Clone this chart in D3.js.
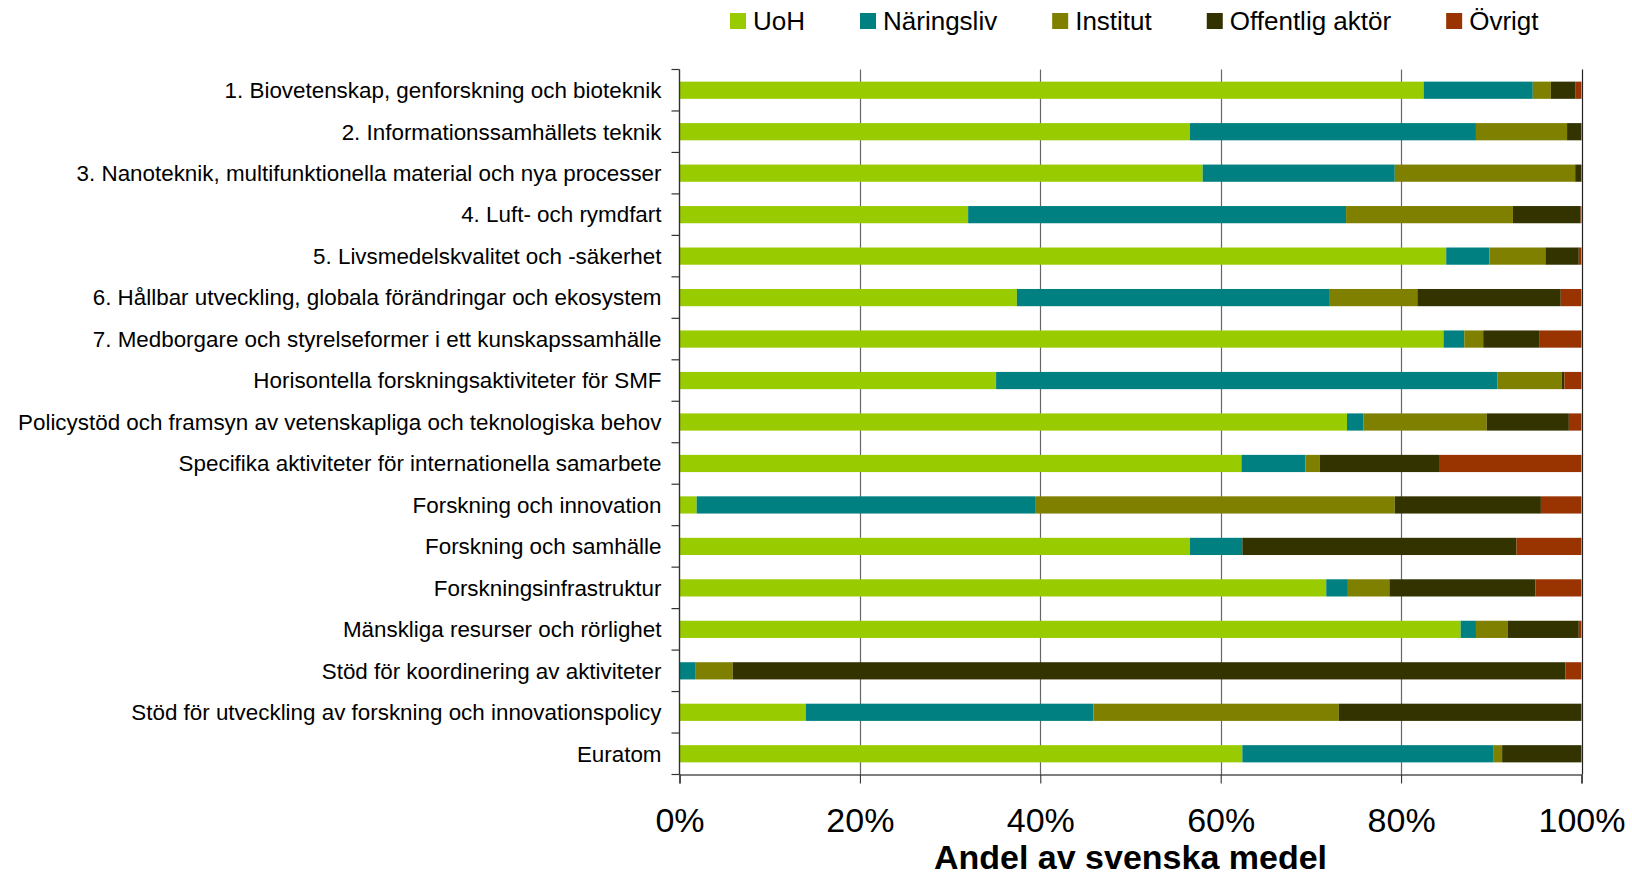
<!DOCTYPE html>
<html>
<head>
<meta charset="utf-8">
<script src="https://d3js.org/d3.v7.min.js"></script>
<style>
  body { margin: 0; background: #fff; }
  text { font-family: "Liberation Sans", Arial, sans-serif; fill: #000; }
</style>
</head>
<body>
<div id="chart"></div>
<script>
// categories, top to bottom
var categories = [
  "1. Biovetenskap, genforskning och bioteknik",
  "2. Informationssamhällets teknik",
  "3. Nanoteknik, multifunktionella material och nya processer",
  "4. Luft- och rymdfart",
  "5. Livsmedelskvalitet och -säkerhet",
  "6. Hållbar utveckling, globala förändringar och ekosystem",
  "7. Medborgare och styrelseformer i ett kunskapssamhälle",
  "Horisontella forskningsaktiviteter för SMF",
  "Policystöd och framsyn av vetenskapliga och teknologiska behov",
  "Specifika aktiviteter för internationella samarbete",
  "Forskning och innovation",
  "Forskning och samhälle",
  "Forskningsinfrastruktur",
  "Mänskliga resurser och rörlighet",
  "Stöd för koordinering av aktiviteter",
  "Stöd för utveckling av forskning och innovationspolicy",
  "Euratom"
];

var seriesNames = ["UoH", "Näringsliv", "Institut", "Offentlig aktör", "Övrigt"];
var seriesColors = ["#99cc00", "#008080", "#808000", "#333300", "#993300"];

// share in percent
var uoh        = [82.5, 56.6, 58.0, 32.0, 85.0, 37.4, 84.7, 35.1, 74.0, 62.3, 1.9, 56.6, 71.7, 86.6, 0, 14.0, 62.4];
var naringsliv = [12.1, 31.7, 21.3, 41.9, 4.8, 34.7, 2.3, 55.6, 1.8, 7.1, 37.6, 5.8, 2.4, 1.7, 1.8, 31.9, 27.8];
var institut   = [2.0, 10.1, 20.0, 18.5, 6.2, 9.7, 2.1, 7.1, 13.7, 1.6, 39.8, 0, 4.6, 3.5, 4.1, 27.2, 1.0];
var offentlig  = [2.7, 1.6, 0.7, 7.5, 3.7, 15.9, 6.2, 0.3, 9.1, 13.2, 16.2, 30.4, 16.2, 7.9, 92.3, 26.9, 8.8];
var ovrigt     = [0.7, 0, 0, 0.1, 0.3, 2.3, 4.7, 1.9, 1.4, 15.8, 4.5, 7.2, 5.1, 0.3, 1.8, 0, 0];

var xTicks = [0, 0.2, 0.4, 0.6, 0.8, 1];
var xTitle = "Andel av svenska medel";

var width = 1632, height = 874;
var margin = {top: 69.5, right: 50, bottom: 99.5, left: 679.5};

var seriesValues = [uoh, naringsliv, institut, offentlig, ovrigt];
var rows = categories.map(function(c, i) {
  var r = {cat: c};
  seriesNames.forEach(function(s, j) { r[s] = seriesValues[j][i]; });
  return r;
});

var stacked = d3.stack()
  .keys(seriesNames)
  .offset(d3.stackOffsetExpand)(rows);

var svg = d3.select("#chart").append("svg")
  .attr("width", width)
  .attr("height", height);

var x = d3.scaleLinear()
  .domain([0, 1])
  .range([margin.left, width - margin.right - 0.5]);

var y = d3.scaleBand()
  .domain(categories)
  .range([margin.top, height - margin.bottom])
  .paddingInner(0.585)
  .paddingOuter(0.2925);

var plotTop = margin.top, plotBottom = height - margin.bottom;

// vertical gridlines
svg.append("g")
  .selectAll("line")
  .data(xTicks.slice(1))
  .enter().append("line")
    .attr("x1", function(d) { return Math.round(x(d)) + 0.5; })
    .attr("x2", function(d) { return Math.round(x(d)) + 0.5; })
    .attr("y1", plotTop)
    .attr("y2", plotBottom)
    .attr("stroke", function(d) { return d === 1 ? "#222" : "#666"; })
    .attr("stroke-width", 1.2);

// bars
svg.append("g")
  .selectAll("g")
  .data(stacked)
  .enter().append("g")
    .attr("fill", function(d, i) { return seriesColors[i]; })
  .selectAll("rect")
  .data(function(d) { return d; })
  .enter().append("rect")
    .attr("x", function(d) { return x(d[0]); })
    .attr("width", function(d) { return Math.max(0, x(d[1]) - x(d[0])); })
    .attr("y", function(d) { return y(d.data.cat); })
    .attr("height", y.bandwidth());

// bottom axis
var xAxis = d3.axisBottom(x)
  .tickValues(xTicks)
  .tickFormat(d3.format(".0%"))
  .tickSize(9)
  .tickPadding(24);

var gx = svg.append("g")
  .attr("transform", "translate(0," + plotBottom + ")")
  .call(xAxis);
gx.select(".domain").attr("stroke", "#555").attr("stroke-width", 1.6);
gx.selectAll(".tick line").attr("stroke", "#222");
gx.selectAll(".tick text")
  .style("font-size", "34px")
  .attr("fill", "#000");

// left axis, ticks on the band edges like Excel
var ga = svg.append("g");
ga.append("line")
  .attr("x1", margin.left).attr("x2", margin.left)
  .attr("y1", plotTop).attr("y2", plotBottom)
  .attr("stroke", "#333").attr("stroke-width", 1.4);
var edges = categories.map(function(c) { return y(c) - y.step() * y.paddingInner() / 2; });
edges.push(plotBottom);
ga.selectAll(".edge")
  .data(edges)
  .enter().append("line")
    .attr("x1", margin.left - 8).attr("x2", margin.left)
    .attr("y1", function(d) { return d; })
    .attr("y2", function(d) { return d; })
    .attr("stroke", "#333").attr("stroke-width", 1.2);

ga.selectAll("text")
  .data(categories)
  .enter().append("text")
    .attr("x", margin.left - 18)
    .attr("y", function(d) { return y(d) + y.bandwidth() / 2; })
    .attr("dy", "0.35em")
    .attr("text-anchor", "end")
    .style("font-size", "22.4px")
    .text(function(d) { return d; });

// axis title
svg.append("text")
  .attr("x", (x(0) + x(1)) / 2)
  .attr("y", 869)
  .attr("text-anchor", "middle")
  .style("font-size", "34px")
  .style("font-weight", "bold")
  .text(xTitle);

// legend across the top
var legend = svg.append("g").attr("class", "legend");
var lx = 730;
seriesNames.forEach(function(s, i) {
  var item = legend.append("g").attr("transform", "translate(" + lx + ",0)");
  item.append("rect")
    .attr("x", 0).attr("y", 13)
    .attr("width", 16).attr("height", 16)
    .attr("fill", seriesColors[i]);
  var t = item.append("text")
    .attr("x", 23).attr("y", 30)
    .style("font-size", "26px")
    .text(s);
  lx += 23 + t.node().getComputedTextLength() + 55;
});
</script>
</body>
</html>
